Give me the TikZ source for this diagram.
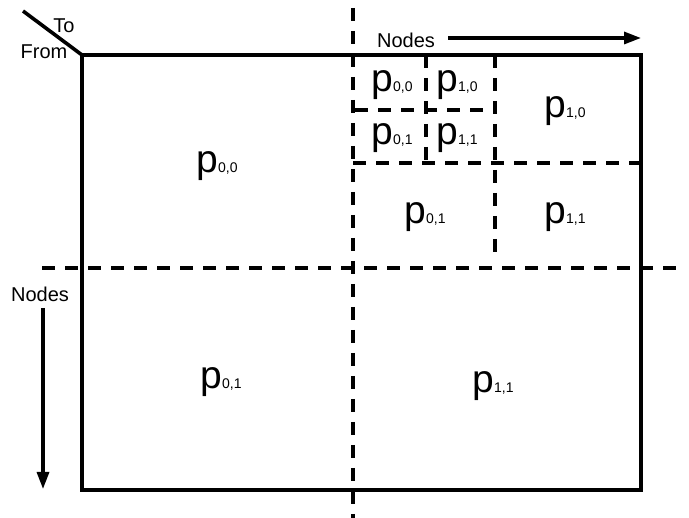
\documentclass[tikz,border=0pt]{standalone}
\usepackage{fontspec}
\setmainfont{Liberation Sans}
\usetikzlibrary{arrows.meta}
\newcommand\plab[1]{{\fontsize{39}{39}\selectfont p}{\fontsize{14}{14}\selectfont #1}}
\begin{document}
\begin{tikzpicture}[x=1pt,y=-1pt,
  frame/.style={line width=3.6pt, line join=miter},
  dashline/.style={line width=3.6pt, dash pattern=on 13pt off 10pt},
  arrowline/.style={line width=3.2pt, -{Triangle[length=17pt,width=12pt]}},
  lbl/.style={inner sep=0pt, font=\fontsize{20}{20}\selectfont},
  cell/.style={inner sep=0pt}]
\useasboundingbox (0,0) rectangle (689,518);
% frame
\coordinate (NW) at (82,55);
\coordinate (NE) at (641,55);
\coordinate (SE) at (641,490);
\coordinate (SW) at (82,490);
\coordinate (D) at (23,11);
\draw[frame] (NW) -- (NE) -- (SE) -- (SW) -- cycle;
\draw[frame] (D) -- (NW);
% dashed partition lines
\coordinate (v1a) at (353,8);   \coordinate (v1b) at (353,518);
\coordinate (h1a) at (42,268);  \coordinate (h1b) at (683,268);
\coordinate (v2a) at (495,55);  \coordinate (v2b) at (495,262);
\coordinate (v3a) at (426,55);  \coordinate (v3b) at (426,163);
\coordinate (h2a) at (355,110); \coordinate (h2b) at (495,110);
\coordinate (h3a) at (353,163); \coordinate (h3b) at (641,163);
\draw[dashline] (v1a) -- (v1b);
\draw[dashline] (h1a) -- (h1b);
\draw[dashline] (v2a) -- (v2b);
\draw[dashline] (v3a) -- (v3b);
\draw[dashline] (h2a) -- (h2b);
\draw[dashline] (h3a) -- (h3b);
% axis labels and arrows
\node[lbl] (to) at (64,26) {To};
\node[lbl] (from) at (44,52) {From};
\node[lbl] (ntop) at (406,40) {Nodes};
\node[lbl] (nleft) at (40,294) {Nodes};
\coordinate (ta) at (448,38); \coordinate (tb) at (641,38);
\coordinate (la) at (43,308); \coordinate (lb) at (43,489);
\draw[arrowline] (ta) -- (tb);
\draw[arrowline] (la) -- (lb);
% cell labels
\node[cell] (c1) at (217,166) {\plab{0,0}};
\node[cell] (c2) at (221,382) {\plab{0,1}};
\node[cell] (c3) at (493,386) {\plab{1,1}};
\node[cell] (c4) at (425,217) {\plab{0,1}};
\node[cell] (c5) at (565,217) {\plab{1,1}};
\node[cell] (c6) at (565,111) {\plab{1,0}};
\node[cell] (c7) at (392,85) {\plab{0,0}};
\node[cell] (c8) at (457,85) {\plab{1,0}};
\node[cell] (c9) at (392,138) {\plab{0,1}};
\node[cell] (c10) at (457,138) {\plab{1,1}};
\end{tikzpicture}
\end{document}
